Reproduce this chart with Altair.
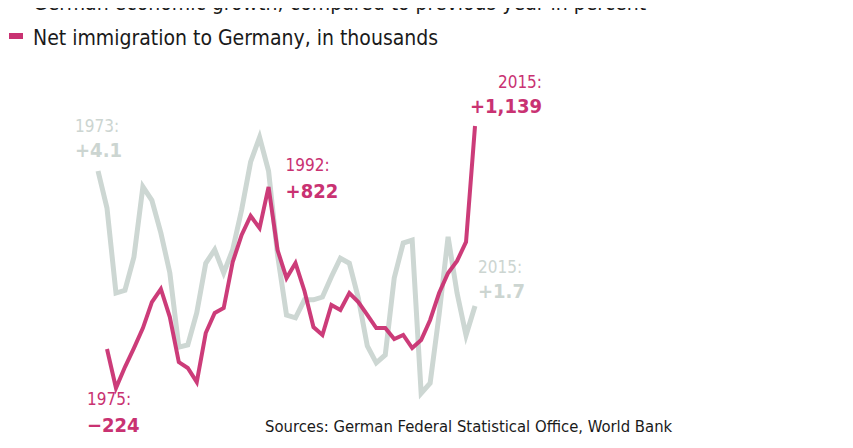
import altair as alt
import pandas as pd

# ---- data ----
growth_years = list(range(1973, 2016))
growth = [4.1, 3.44, 1.93, 1.98, 2.57, 3.82, 3.58, 3.0, 2.29, 0.97, 1.01, 1.58,
          2.46, 2.7, 2.29, 2.7, 3.41, 4.26, 4.7, 4.1, 2.61, 1.54, 1.49, 1.81,
          1.81, 1.86, 2.22, 2.55, 2.46, 1.84, 0.99, 0.69, 0.83, 2.2, 2.82, 2.87,
          0.15, 0.33, 1.55, 2.93, 1.93, 1.18, 1.7]

immig_years = list(range(1974, 2016))
immigration = [-21, -224, -115, -16, 88, 223, 291, 145, -89, -120, -193, 62,
               166, 192, 431, 572, 671, 608, 822, 494, 348, 426, 281, 93, 52,
               208, 182, 270, 223, 156, 88, 88, 31, 52, -16, 26, 130, 270, 374,
               437, 536, 1139]

legend_labels = ["German economic growth; compared to previous year in percent",
                 "Net immigration to Germany, in thousands"]
source_text = "Sources: German Federal Statistical Office, World Bank"

growth_note_years = [1973, 2015]
growth_note_values = [4.1, 1.7]
growth_note_labels = ["+4.1", "+1.7"]

immig_note_years = [1975, 1992, 2015]
immig_note_values = [-224, 822, 1139]
immig_note_labels = ["\u2212224", "+822", "+1,139"]

# ---- styling ----
GREY = "#cdd7d3"
GREY_TXT = "#ccd5d1"
MAGENTA = "#c93272"
FONT = "DejaVu Sans Condensed, DejaVu Sans, sans-serif"

W, H = 837, 432
X_DOMAIN = [1962.97, 2056.22]
G_DOMAIN = [-0.682, 6.998]
M_DOMAIN = [-494.5, 1752.9]

gdf = pd.DataFrame({"year": growth_years, "growth": growth})
mdf = pd.DataFrame({"year": immig_years, "immigration": immigration})
gnotes = pd.DataFrame({"year": growth_note_years, "growth": growth_note_values,
                       "label": growth_note_labels,
                       "yl": [f"{y}:" for y in growth_note_years]})
mnotes = pd.DataFrame({"year": immig_note_years, "immigration": immig_note_values,
                       "label": immig_note_labels,
                       "yl": [f"{y}:" for y in immig_note_years]})

xenc = alt.X("year:Q", scale=alt.Scale(domain=X_DOMAIN, nice=False, zero=False), axis=None)
gy = alt.Y("growth:Q", scale=alt.Scale(domain=G_DOMAIN, nice=False, zero=False), axis=None)
my = alt.Y("immigration:Q", scale=alt.Scale(domain=M_DOMAIN, nice=False, zero=False), axis=None)

grey_line = alt.Chart(gdf).mark_line(color=GREY, strokeWidth=5).encode(x=xenc, y=gy)
mag_line = alt.Chart(mdf).mark_line(color=MAGENTA, strokeWidth=4, opacity=0.95).encode(x=xenc, y=my)


def note(df, yenc, year, color, dx, dy1, dy2, align, size1=17, size2=20):
    sub = df[df["year"] == year]
    base = alt.Chart(sub)
    t1 = base.mark_text(font=FONT, fontSize=size1, color=color, align=align,
                        baseline="alphabetic", dx=dx, dy=dy1).encode(x=xenc, y=yenc, text="yl:N")
    t2 = base.mark_text(font=FONT, fontSize=size2, fontWeight="bold", color=color,
                        align=align, baseline="alphabetic", dx=dx, dy=dy2).encode(x=xenc, y=yenc, text="label:N")
    return [t1, t2]


layers = [grey_line, mag_line]
layers += note(gnotes, gy, 1973, GREY_TXT, -23, -39, -14, "left")
layers += note(gnotes, gy, 2015, GREY_TXT, 3, -33, -8, "left")
layers += note(mnotes, my, 1975, MAGENTA, -29, 17, 44, "left")
layers += note(mnotes, my, 1992, MAGENTA, 17, -16, 11, "left")
layers += note(mnotes, my, 2015, MAGENTA, 67, -38, -13, "right")

# legend
leg = pd.DataFrame({"label": legend_labels, "row": [0, 1]})
legend_text0 = alt.Chart(leg[leg["row"] == 0]).mark_text(
    font=FONT, fontSize=21, color="#1a1a1a", align="left", baseline="alphabetic"
).encode(x=alt.value(25), y=alt.value(2), text="label:N")
legend_text1 = alt.Chart(leg[leg["row"] == 1]).mark_text(
    font=FONT, fontSize=21, color="#1a1a1a", align="left", baseline="alphabetic"
).encode(x=alt.value(25), y=alt.value(37), text="label:N")
sw_grey = alt.Chart(leg[leg["row"] == 0]).mark_rect(color=GREY).encode(
    x=alt.value(1), x2=alt.value(15), y=alt.value(-8), y2=alt.value(-1))
sw_mag = alt.Chart(leg[leg["row"] == 1]).mark_rect(color=MAGENTA).encode(
    x=alt.value(1), x2=alt.value(15), y=alt.value(25), y2=alt.value(31))

src = alt.Chart(pd.DataFrame({"t": [source_text]})).mark_text(
    font=FONT, fontSize=16.5, color="#1a1a1a", align="left", baseline="alphabetic"
).encode(x=alt.value(257), y=alt.value(424), text="t:N")

layers += [sw_grey, sw_mag, legend_text0, legend_text1, src]

chart = alt.layer(*layers).resolve_scale(y="independent").properties(
    width=W, height=H, padding=0, autosize=alt.AutoSizeParams(type="none")
).configure_view(stroke=None)

chart.save("out.html", embed_options={"renderer": "svg", "actions": False})
